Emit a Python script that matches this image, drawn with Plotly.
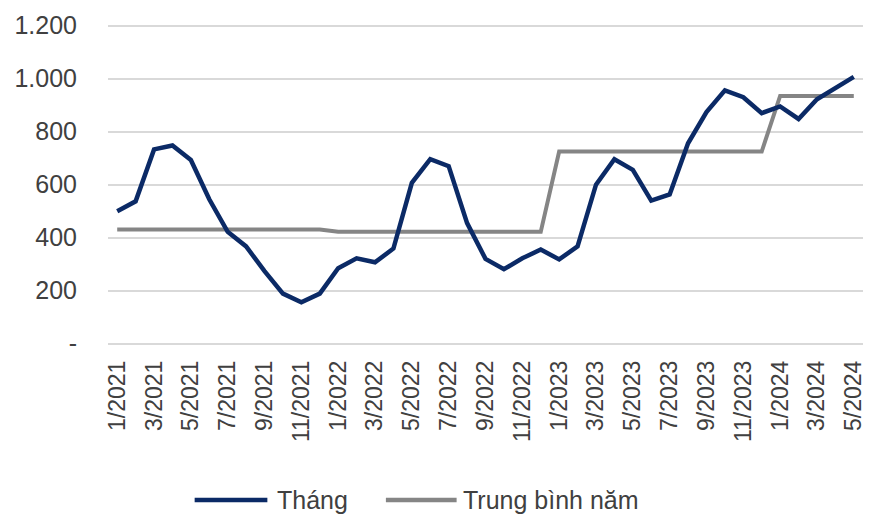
import plotly.graph_objects as go

# Monthly series and yearly average, 1/2021 - 5/2024
months = [f"{m}/{y}" for y in (2021, 2022, 2023) for m in range(1, 13)] + [f"{m}/2024" for m in range(1, 6)]
thang = [500, 537, 733, 748, 693, 545, 422, 367, 274, 189, 156, 189,
         285, 322, 307, 359, 607, 696, 670, 455, 320, 281, 322, 355,
         318, 367, 600, 696, 656, 540, 563, 756, 874, 956, 930, 870,
         895, 848, 922, 967, 1007]
trung_binh_nam = [431] * 12 + [422] * 12 + [725] * 12 + [935] * 5

y_ticks = [0, 200, 400, 600, 800, 1000, 1200]
y_tick_text = ["-", "200", "400", "600", "800", "1.000", "1.200"]
x_ticks = months[::2]

NAVY = "#0B2A66"
GREY = "#858585"
TEXT = "#404040"
FONT = "Liberation Sans, Arial, sans-serif"

W, H = 877, 518
L, R, T, B = 108, 11, 17, 173

fig = go.Figure()
fig.add_trace(go.Scatter(x=months, y=trung_binh_nam, mode="lines", name="Trung bình năm",
                         line=dict(color=GREY, width=4)))
fig.add_trace(go.Scatter(x=months, y=thang, mode="lines", name="Tháng",
                         line=dict(color=NAVY, width=4.5)))

fig.update_layout(
    width=W, height=H,
    margin=dict(l=L, r=R, t=T, b=B, pad=0),
    paper_bgcolor="white", plot_bgcolor="white",
    showlegend=False,
    font=dict(family=FONT, color=TEXT),
)
fig.update_xaxes(type="category", tickmode="array", tickvals=x_ticks, ticktext=x_ticks,
                 tickangle=-90, tickfont=dict(size=23, color=TEXT), showgrid=False,
                 showline=False, zeroline=False, ticks="", ticklabelstandoff=10,
                 range=[-0.5, len(months) - 0.5])
fig.update_yaxes(range=[-5, 1210], tickmode="array", tickvals=y_ticks, ticktext=y_tick_text,
                 tickfont=dict(size=25, color=TEXT), showgrid=True, gridcolor="#D9D9D9",
                 gridwidth=1.5, zeroline=False, showline=False, ticks="",
                 ticklabelstandoff=30)

# Legend drawn as line samples with text labels below the plot
def px_x(px):
    return (px - L) / (W - L - R)

def px_y(py):
    return (H - B - py) / (H - T - B)

legend_items = [("Tháng", NAVY, 195, 268, 276), ("Trung bình năm", GREY, 387, 458, 462)]
for label, color, x0, x1, tx in legend_items:
    fig.add_shape(type="line", xref="paper", yref="paper",
                  x0=px_x(x0), x1=px_x(x1), y0=px_y(503), y1=px_y(503),
                  line=dict(color=color, width=4.5))
    fig.add_annotation(text=label, xref="paper", yref="paper", x=px_x(tx), y=px_y(503),
                       xanchor="left", yanchor="middle", showarrow=False,
                       font=dict(size=25, color=TEXT, family=FONT))

fig.write_html("out.html")
